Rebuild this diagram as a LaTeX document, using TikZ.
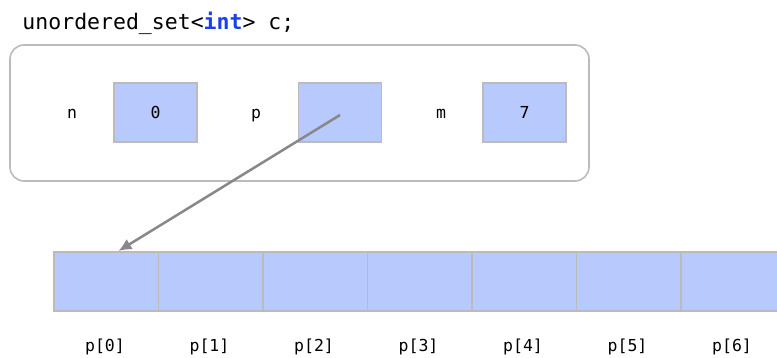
\documentclass[tikz,border=0pt]{standalone}
\usepackage{fontspec}
\setmonofont{DejaVu Sans Mono}
\usetikzlibrary{arrows.meta}
\definecolor{cellfill}{HTML}{B7C9FD}
\definecolor{cellline}{HTML}{BBBBBB}
\definecolor{arrowgray}{HTML}{888888}
\definecolor{kwblue}{HTML}{1A3FEF}
\begin{document}
\begin{tikzpicture}[x=1pt,y=-1pt,
  cellbox/.style={draw=cellline,fill=cellfill,line width=1.6pt,minimum width=83pt,minimum height=59pt,inner sep=0pt},
  arrcell/.style={draw=cellline,fill=cellfill,line width=1.6pt,minimum width=104.5pt,minimum height=59pt,inner sep=0pt},
  lbl/.style={inner sep=0pt,anchor=base,font=\ttfamily\fontsize{16.5}{19}\selectfont},
  ptr/.style={draw=arrowgray,line width=2.5pt,-{Latex[length=13pt,width=12pt]}}]
\useasboundingbox (0,0) rectangle (777,358);
\clip (0,0) rectangle (777,358);
\node[anchor=base west,inner sep=0pt,font=\ttfamily\fontsize{21.5}{25}\selectfont] (title) at (22.3,30) {unordered\_set<\textcolor{kwblue}{\bfseries int}> c;};
\node[draw=cellline,line width=1.6pt,rounded corners=14pt,minimum width=579pt,minimum height=136pt,inner sep=0pt] (outer) at (299.5,113) {};
\node[cellbox] (n) at (155.5,112.5) {};
\node[cellbox] (p) at (340,112.5) {};
\node[cellbox] (m) at (524.5,112.5) {};
\node[lbl] (ln) at (72,118.5) {n};
\node[lbl] (vn) at (155.5,118.5) {0};
\node[lbl] (lp) at (256,118.5) {p};
\node[lbl] (lm) at (441,118.5) {m};
\node[lbl] (vm) at (524.5,118.5) {7};
\foreach \i in {0,...,6} {
  \node[arrcell] (c\i) at ({106.25+104.5*\i},281.5) {};
  \node[lbl] (l\i) at ({105+104.5*\i},351.5) {p[\i]};
}
\coordinate (tip) at (118.5,251);
\coordinate (src) at (340,115);
\draw[ptr] (src) -- (tip);
\end{tikzpicture}
\end{document}
